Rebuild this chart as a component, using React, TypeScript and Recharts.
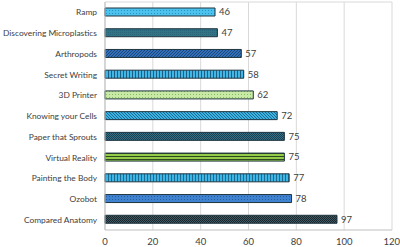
import { BarChart, Bar, XAxis, YAxis, CartesianGrid, Cell, LabelList } from 'recharts';

const activities = [
  'Ramp',
  'Discovering Microplastics',
  'Arthropods',
  'Secret Writing',
  '3D Printer',
  'Knowing your Cells',
  'Paper that Sprouts',
  'Virtual Reality',
  'Painting the Body',
  'Ozobot',
  'Compared Anatomy',
];
const scores = [46, 47, 57, 58, 62, 72, 75, 75, 77, 78, 97];
const xTicks = [0, 20, 40, 60, 80, 100, 120];

const rows = activities.map((name, i) => ({ name, score: scores[i] }));

const FONT = 'Lato, "Open Sans", sans-serif';
const TEXT = '#404040';

function Patterns() {
  return (
    <defs>
      {/* dotted light blue */}
      <pattern id="p0" width="3" height="3" patternUnits="userSpaceOnUse">
        <rect width="3" height="3" fill="#4cc3ee" />
        <rect x="1" y="1" width="1" height="1" fill="#2a92c4" />
      </pattern>
      {/* dark teal, fine grain */}
      <pattern id="p1" width="2" height="2" patternUnits="userSpaceOnUse">
        <rect width="2" height="2" fill="#317387" />
        <rect width="1" height="1" fill="#2b6678" />
      </pattern>
      {/* diagonal hatch blue */}
      <pattern id="p2" width="3" height="3" patternUnits="userSpaceOnUse">
        <rect width="3" height="3" fill="#3170b8" />
        <path d="M0 3 L3 0" stroke="#1d4679" strokeWidth="1" />
      </pattern>
      {/* vertical stripes */}
      <pattern id="p3" width="3" height="3" patternUnits="userSpaceOnUse">
        <rect width="3" height="3" fill="#42b6e4" />
        <rect width="1" height="3" fill="#1c5f86" />
      </pattern>
      {/* dotted light green */}
      <pattern id="p4" width="3" height="3" patternUnits="userSpaceOnUse">
        <rect width="3" height="3" fill="#c8eaa6" />
        <rect x="1" y="1" width="1" height="1" fill="#86bd5c" />
      </pattern>
      {/* diagonal cyan */}
      <pattern id="p5" width="3" height="3" patternUnits="userSpaceOnUse">
        <rect width="3" height="3" fill="#3cb2e2" />
        <path d="M0 0 L3 3" stroke="#1b6d94" strokeWidth="1" />
      </pattern>
      {/* checker teal */}
      <pattern id="p6" width="2" height="2" patternUnits="userSpaceOnUse">
        <rect width="2" height="2" fill="#336f86" />
        <rect width="1" height="1" fill="#1c4050" />
        <rect x="1" y="1" width="1" height="1" fill="#1c4050" />
      </pattern>
      {/* horizontal stripes green */}
      <pattern id="p7" width="3" height="3" patternUnits="userSpaceOnUse">
        <rect width="3" height="3" fill="#92cc48" />
        <rect width="3" height="1" fill="#2f4a22" />
      </pattern>
      {/* vertical stripes */}
      <pattern id="p8" width="3" height="3" patternUnits="userSpaceOnUse">
        <rect width="3" height="3" fill="#3db5e5" />
        <rect width="1" height="3" fill="#1d6990" />
      </pattern>
      {/* dotted blue */}
      <pattern id="p9" width="3" height="3" patternUnits="userSpaceOnUse">
        <rect width="3" height="3" fill="#3f82cf" />
        <rect x="1" y="1" width="1" height="1" fill="#2a5e9c" />
      </pattern>
      {/* checker dark */}
      <pattern id="p10" width="2" height="2" patternUnits="userSpaceOnUse">
        <rect width="2" height="2" fill="#3d5a64" />
        <rect width="1" height="1" fill="#1a262b" />
        <rect x="1" y="1" width="1" height="1" fill="#1a262b" />
      </pattern>
    </defs>
  );
}

// single-line category label (the default tick wraps long names)
function CategoryTick({ x, y, payload }: any) {
  return (
    <text
      x={x}
      y={y}
      dy={3.1}
      textAnchor="end"
      fontFamily={FONT}
      fontSize={8.4}
      fill={TEXT}
    >
      {payload.value}
    </text>
  );
}

export default function App() {
  return (
    <div style={{ position: 'absolute', left: 0, top: 0, background: '#fff' }}>
      <BarChart
        width={400}
        height={247}
        data={rows}
        layout="vertical"
        margin={{ top: 2, right: 8, bottom: 0, left: 0 }}
        barSize={8}
      >
        <Patterns />
        <CartesianGrid
          stroke="#d9d9d9"
          horizontalCoordinatesGenerator={({ offset }: any) => [offset.top]}
        />
        <XAxis
          type="number"
          domain={[0, 120]}
          ticks={xTicks}
          height={17}
          tick={{ fontFamily: FONT, fontSize: 9.5, fill: TEXT }}
          axisLine={{ stroke: '#bfbfbf' }}
          tickLine={false}
        />
        <YAxis
          type="category"
          dataKey="name"
          width={105}
          interval={0}
          tick={<CategoryTick />}
          axisLine={{ stroke: '#bfbfbf' }}
          tickLine={false}
        />
        <Bar dataKey="score" stroke="#1f3540" strokeWidth={1} isAnimationActive={false}>
          {rows.map((r, i) => (
            <Cell key={r.name} fill={`url(#p${i})`} />
          ))}
          <LabelList
            dataKey="score"
            position="right"
            offset={4}
            style={{ fontFamily: FONT, fontSize: 9.5, fill: TEXT }}
          />
        </Bar>
      </BarChart>
    </div>
  );
}
